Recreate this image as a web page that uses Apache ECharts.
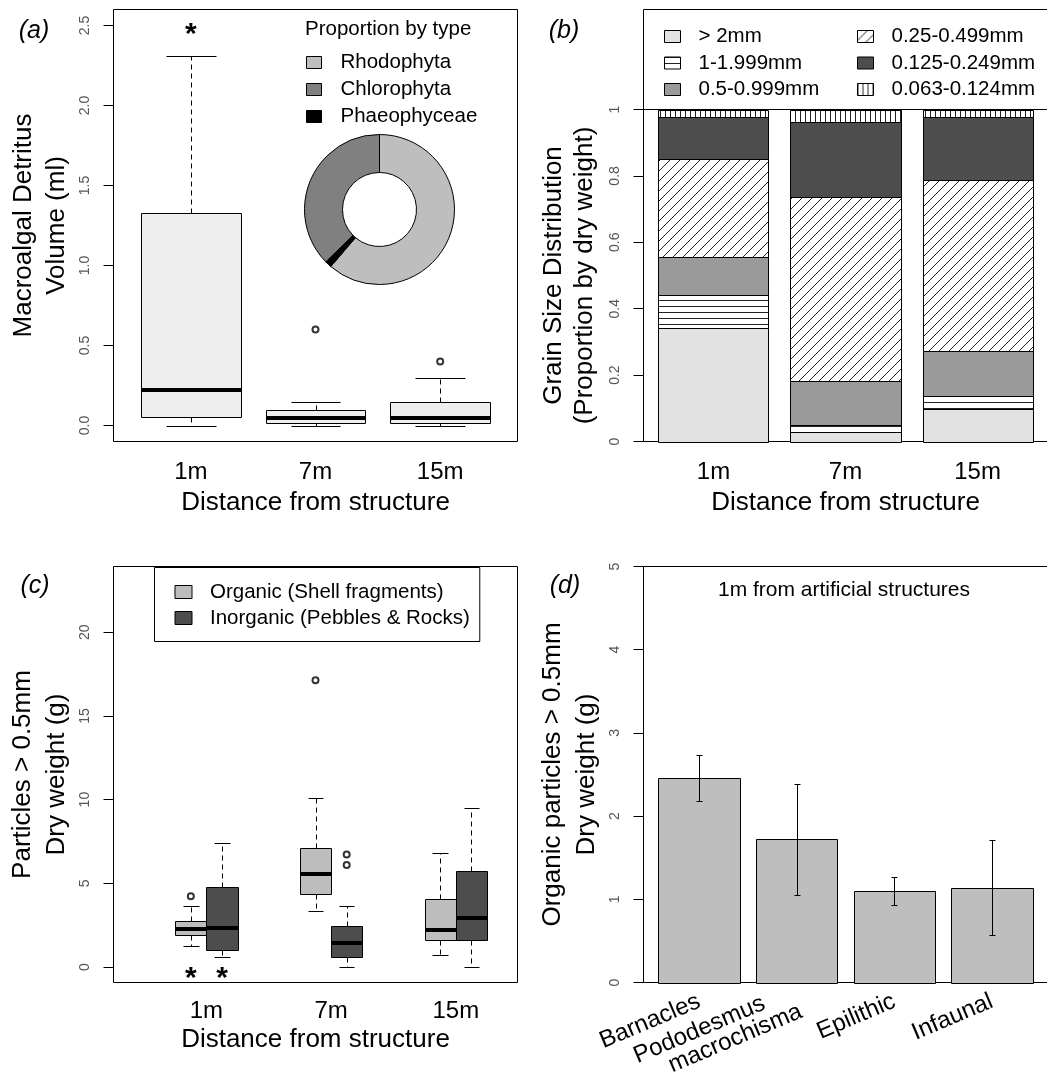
<!DOCTYPE html>
<html>
<head>
<meta charset="utf-8">
<script src="https://cdn.jsdelivr.net/npm/echarts@6/dist/echarts.min.js"></script>
<style>
  html, body { margin: 0; padding: 0; background: #fff; }
  #chart { width: 1047px; height: 1084px; }
</style>
</head>
<body>
<div id="chart"></div>
<script>
// ---------------- data ----------------
const distances = ['1m', '7m', '15m'];

// (a) macroalgal detritus volume (ml) per distance: [min, Q1, median, Q3, max]
const detritusBox = [
  [0.000, 0.054, 0.225, 1.326, 2.310],
  [0.000, 0.017, 0.045, 0.100, 0.150],
  [0.000, 0.017, 0.048, 0.148, 0.300]
];
// outliers: [distance index, value]
const detritusOutliers = [[1, 0.60], [2, 0.40]];
const detritusSignificant = [true, false, false];

// (a) inset: proportion of detritus by algal type
const algaeTypes = ['Rhodophyta', 'Chlorophyta', 'Phaeophyceae'];
const algaeShare = [0.6125, 0.3730, 0.0145];

// (b) grain size distribution (proportion by dry weight)
const grainClasses = ['> 2mm', '1-1.999mm', '0.5-0.999mm', '0.25-0.499mm', '0.125-0.249mm', '0.063-0.124mm'];
const grain1m  = [0.341, 0.100, 0.116, 0.293, 0.128, 0.022];
const grain7m  = [0.028, 0.022, 0.133, 0.552, 0.226, 0.039];
const grain15m = [0.098, 0.040, 0.136, 0.513, 0.191, 0.022];

// (c) particles > 0.5mm dry weight (g): [min, Q1, median, Q3, max]
const particleTypes = ['Organic (Shell fragments)', 'Inorganic (Pebbles & Rocks)'];
const organicBox = [
  [1.26, 1.94, 2.30, 2.73, 3.65],
  [3.33, 4.35, 5.53, 7.09, 10.12],
  [0.74, 1.64, 2.24, 4.05, 6.79]
];
const inorganicBox = [
  [0.60, 1.04, 2.36, 4.79, 7.39],
  [0.00, 0.60, 1.44, 2.46, 3.63],
  [0.00, 1.60, 2.93, 5.73, 9.48]
];
const organicOutliers = [[0, 4.23], [1, 17.13]];
const inorganicOutliers = [[1, 6.73], [1, 6.09]];
const organicSignificant = [true, false, false];
const inorganicSignificant = [true, false, false];

// (d) organic particles > 0.5mm at 1m, by source: mean and error
const shellSources = ['Barnacles', 'Pododesmus\nmacrochisma', 'Epilithic', 'Infaunal'];
const shellMean = [2.46, 1.72, 1.10, 1.14];
const shellErr  = [0.28, 0.67, 0.17, 0.57];

// ---------------- styling helpers ----------------
const FONT = '"Liberation Sans", Arial, Helvetica, sans-serif';
const TITLE_SIZE = 26;

function makePattern(kind) {
  const c = document.createElement('canvas');
  const w = kind === 'h' ? 8 : kind === 'v' ? 5 : 10;
  const h = kind === 'h' ? 6 : kind === 'v' ? 8 : 10;
  c.width = w; c.height = h;
  const g = c.getContext('2d');
  g.fillStyle = '#fff';
  g.fillRect(0, 0, w, h);
  g.strokeStyle = '#222';
  g.lineWidth = 1;
  g.beginPath();
  if (kind === 'h') {
    g.moveTo(0, 0.5); g.lineTo(w, 0.5);
  } else if (kind === 'v') {
    g.moveTo(0.5, 0); g.lineTo(0.5, h);
  } else {
    g.moveTo(0, h); g.lineTo(w, 0);
    g.moveTo(-w / 2, h / 2); g.lineTo(w / 2, -h / 2);
    g.moveTo(w / 2, h * 1.5); g.lineTo(w * 1.5, h / 2);
  }
  g.stroke();
  return { image: c, repeat: 'repeat' };
}

const grainFills = ['#e2e2e2', makePattern('h'), '#9a9a9a', makePattern('d'), '#4d4d4d', makePattern('v')];
const algaeColors = { Rhodophyta: '#bebebe', Chlorophyta: '#808080', Phaeophyceae: '#000000' };

const crisp = v => Math.round(v) + 0.5;

function nearestIndex(list, v) {
  let best = 0;
  list.forEach((p, i) => { if (Math.abs(p - v) < Math.abs(list[best] - v)) best = i; });
  return best;
}

function lineEl(x1, y1, x2, y2, extra) {
  return { type: 'line', shape: { x1, y1, x2, y2 },
           style: Object.assign({ stroke: '#000', lineWidth: 1 }, extra || {}) };
}

// Box-and-whisker glyph for custom series; data item = [x, min, q1, median, q3, max]
function boxRenderer(fill, halfW) {
  return function (params, api) {
    const x = api.value(0);
    const px = u => api.coord([u, 0])[0];
    const py = u => api.coord([x, u])[1];
    const xl = crisp(px(x - halfW)), xr = crisp(px(x + halfW)), xc = crisp(px(x));
    const cl = crisp(px(x - halfW / 2)), cr = crisp(px(x + halfW / 2));
    const yMin = crisp(py(api.value(1))), yQ1 = crisp(py(api.value(2)));
    const yMed = Math.round(py(api.value(3))), yQ3 = crisp(py(api.value(4)));
    const yMax = crisp(py(api.value(5)));
    return {
      type: 'group',
      children: [
        lineEl(xc, yQ3, xc, yMax, { lineDash: [5, 4] }),
        lineEl(xc, yQ1, xc, yMin, { lineDash: [5, 4] }),
        lineEl(cl, yMax, cr, yMax),
        lineEl(cl, yMin, cr, yMin),
        { type: 'rect', shape: { x: xl, y: yQ3, width: xr - xl, height: yQ1 - yQ3 },
          style: { fill: fill, stroke: '#000', lineWidth: 1 } },
        lineEl(xl, yMed, xr, yMed, { lineWidth: 4 })
      ]
    };
  };
}

function starRenderer(params, api) {
  const p = api.coord([api.value(0), api.value(1)]);
  return {
    type: 'text', x: p[0], y: p[1],
    style: { text: '*', font: 'bold 30px ' + FONT, fill: '#000',
             textAlign: 'center', textVerticalAlign: 'middle',
             align: 'center', verticalAlign: 'middle' }
  };
}

function catAxis(gridIndex, min, max, positions, labels, extra) {
  const ax = {
    gridIndex, type: 'value', min, max,
    axisLine: { show: false }, axisTick: { show: false }, splitLine: { show: false },
    axisLabel: {
      customValues: positions,
      formatter: v => labels[nearestIndex(positions, v)],
      fontSize: 24, color: '#000', margin: 19
    }
  };
  if (extra) {
    Object.keys(extra).forEach(k => {
      if (k === 'axisLabel') Object.assign(ax.axisLabel, extra.axisLabel);
      else ax[k] = extra[k];
    });
  }
  return ax;
}

function valAxis(gridIndex, min, max, ticks, fmt, name, nameGap, lineHeight) {
  return {
    gridIndex, type: 'value', min, max,
    axisLine: { show: false }, splitLine: { show: false },
    axisTick: { show: true, customValues: ticks, length: 10, lineStyle: { color: '#000', width: 1 } },
    axisLabel: { customValues: ticks, rotate: 90, formatter: fmt, fontSize: 14, color: '#555', margin: 21 },
    name, nameLocation: 'middle', nameGap,
    nameTextStyle: { fontSize: TITLE_SIZE, lineHeight, color: '#000' }
  };
}

const xTitle = (gap) => ({
  name: 'Distance from structure', nameLocation: 'middle', nameGap: gap,
  nameTextStyle: { fontSize: TITLE_SIZE, color: '#000' }
});

// ---------------- derived series data ----------------
const barPos = i => 0.7 + 1.2 * i;   // bar centres (width 1, space 0.2)
const grainByDistance = [grain1m, grain7m, grain15m];
const grainCum = grainByDistance.map(arr => {
  const out = [0];
  arr.forEach(v => out.push(out[out.length - 1] + v));
  return out;
});
const grainSeries = grainClasses.map((name, k) => ({
  type: 'custom', name, xAxisIndex: 1, yAxisIndex: 1,
  itemStyle: { color: grainFills[k] },
  encode: { x: 0, y: [1, 2] },
  data: grainByDistance.map((arr, i) => [barPos(i), grainCum[i][k], grainCum[i][k + 1]]),
  renderItem: (params, api) => {
    const x = api.value(0);
    const tl = api.coord([x - 0.5, api.value(2)]);
    const br = api.coord([x + 0.5, api.value(1)]);
    const x0 = crisp(tl[0]), x1 = crisp(br[0]), y0 = crisp(tl[1]), y1 = crisp(br[1]);
    return { type: 'rect', shape: { x: x0, y: y0, width: x1 - x0, height: y1 - y0 },
             style: { fill: grainFills[k], stroke: '#000', lineWidth: 1 } };
  }
}));

const pieOrder = [0, 2, 1]; // clockwise from 12 o'clock
const pieData = pieOrder.map(i => ({
  name: algaeTypes[i], value: algaeShare[i], itemStyle: { color: algaeColors[algaeTypes[i]] }
}));

const starY_a = 2.44, starY_c = -0.72;

// ---------------- chart ----------------
const chart = echarts.init(document.getElementById('chart'), null, { renderer: 'canvas' });

const gridBase = { show: true, borderColor: '#000', borderWidth: 1, backgroundColor: 'transparent',
                   containLabel: false, outerBoundsMode: 'none' };

const option = {
  animation: false,
  backgroundColor: '#ffffff',
  textStyle: { fontFamily: FONT },
  grid: [
    Object.assign({ left: 113.5, top: 9.5, width: 404, height: 432 }, gridBase),
    Object.assign({ left: 643.5, top: 109.5, width: 404, height: 332 }, gridBase),
    Object.assign({ left: 113.5, top: 566.5, width: 404, height: 416 }, gridBase),
    Object.assign({ left: 643.5, top: 566.5, width: 404, height: 416 }, gridBase)
  ],
  xAxis: [
    catAxis(0, 0.38, 3.62, [1, 2, 3], distances, xTitle(48)),
    catAxis(1, 0.064, 3.736, [barPos(0), barPos(1), barPos(2)], distances, xTitle(48)),
    catAxis(2, 0.38, 3.62, [1.125, 2.125, 3.125], distances, Object.assign(xTitle(44), { axisLabel: { margin: 17 } })),
    catAxis(3, 0.016, 4.984, shellSources.map((s, i) => barPos(i)),
      shellSources.map(s => {
        const parts = s.split('\n');
        return parts.length === 2 ? '{p|' + parts[0] + '}\n{q|' + parts[1] + '}' : s;
      }),
      { axisLabel: { rotate: 23, margin: 18, lineHeight: 22,
                     rich: { p: { fontSize: 24, lineHeight: 22, padding: [0, 31, 0, 0] },
                             q: { fontSize: 24, lineHeight: 22 } } } })
  ],
  yAxis: [
    valAxis(0, -0.1, 2.6, [0, 0.5, 1, 1.5, 2, 2.5], v => v.toFixed(1),
      'Macroalgal Detritus\nVolume (ml)', 40, 33),
    valAxis(1, 0, 1, [0, 0.2, 0.4, 0.6, 0.8, 1], v => String(+v.toFixed(1)),
      'Grain Size Distribution\n(Proportion by dry weight)', 43, 31),
    valAxis(2, -0.92, 23.92, [0, 5, 10, 15, 20], v => String(v),
      'Particles > 0.5mm\nDry weight (g)', 40, 34),
    valAxis(3, 0, 5, [0, 1, 2, 3, 4, 5], v => String(v),
      'Organic particles > 0.5mm\nDry weight (g)', 40, 34)
  ],
  legend: [
    { data: algaeTypes, left: 306, top: 52, orient: 'vertical', icon: 'rect',
      itemWidth: 15, itemHeight: 12, itemGap: 6, padding: 0, selectedMode: false,
      itemStyle: { borderColor: '#000', borderWidth: 1 },
      textStyle: { fontSize: 20.5, color: '#000', padding: [0, 0, 0, 14] } },
    { data: grainClasses.slice(0, 3), left: 664, top: 26, orient: 'vertical', icon: 'rect',
      itemWidth: 16, itemHeight: 12, itemGap: 5.5, padding: 0, selectedMode: false,
      itemStyle: { borderColor: '#000', borderWidth: 1 },
      textStyle: { fontSize: 20.5, color: '#000', padding: [0, 0, 0, 13] } },
    { data: grainClasses.slice(3), left: 857, top: 26, orient: 'vertical', icon: 'rect',
      itemWidth: 16, itemHeight: 12, itemGap: 5.5, padding: 0, selectedMode: false,
      itemStyle: { borderColor: '#000', borderWidth: 1 },
      textStyle: { fontSize: 20.5, color: '#000', padding: [0, 0, 0, 13] } },
    { data: particleTypes, left: 154.5, top: 567.5, orient: 'vertical', icon: 'rect',
      itemWidth: 17, itemHeight: 13, itemGap: 5, padding: [14, 10, 13, 20], selectedMode: false,
      borderColor: '#000', borderWidth: 1,
      itemStyle: { borderColor: '#000', borderWidth: 1 },
      textStyle: { fontSize: 20.5, color: '#000', padding: [0, 0, 0, 13] } }
  ],
  graphic: [
    { type: 'rect', shape: { x: 643.5, y: 9.5, width: 404, height: 100 },
      style: { fill: 'none', stroke: '#000', lineWidth: 1 }, silent: true },
    { type: 'text', x: 305, y: 29,
      style: { text: 'Proportion by type', font: '20.5px ' + FONT, fill: '#000',
               textAlign: 'left', textVerticalAlign: 'middle', align: 'left', verticalAlign: 'middle' } },
    { type: 'text', x: 844, y: 590,
      style: { text: '1m from artificial structures', font: '21px ' + FONT, fill: '#000',
               textAlign: 'center', textVerticalAlign: 'middle', align: 'center', verticalAlign: 'middle' } },
    ...[['(a)', 34, 31], ['(b)', 564, 31], ['(c)', 35, 586], ['(d)', 565, 586]].map(t => ({
      type: 'text', x: t[1], y: t[2],
      style: { text: t[0], font: 'italic 25px ' + FONT, fill: '#000',
               textAlign: 'center', textVerticalAlign: 'middle', align: 'center', verticalAlign: 'middle' }
    }))
  ],
  series: [
    // (a) detritus boxplots
    { type: 'custom', name: 'Detritus volume', xAxisIndex: 0, yAxisIndex: 0,
      encode: { x: 0, y: [1, 2, 3, 4, 5] },
      data: detritusBox.map((b, i) => [i + 1].concat(b)),
      renderItem: boxRenderer('#eeeeee', 0.4) },
    { type: 'scatter', xAxisIndex: 0, yAxisIndex: 0, symbol: 'emptyCircle', symbolSize: 6,
      itemStyle: { color: '#000', borderWidth: 1 }, silent: true,
      data: detritusOutliers.map(o => [o[0] + 1, o[1]]) },
    { type: 'custom', xAxisIndex: 0, yAxisIndex: 0, silent: true,
      data: detritusSignificant.map((s, i) => s ? [i + 1, starY_a] : null).filter(Boolean),
      renderItem: starRenderer },
    // (a) inset donut
    { type: 'pie', center: [379.5, 209.5], radius: [37, 75], startAngle: 90, clockwise: true,
      silent: true, label: { show: false }, labelLine: { show: false },
      itemStyle: { borderColor: '#000', borderWidth: 1 },
      emphasis: { disabled: true }, data: pieData },
    // (b) stacked grain-size bars
    ...grainSeries,
    // (c) organic / inorganic boxplots
    { type: 'custom', name: particleTypes[0], xAxisIndex: 2, yAxisIndex: 2,
      itemStyle: { color: '#bdbdbd' }, encode: { x: 0, y: [1, 2, 3, 4, 5] },
      data: organicBox.map((b, i) => [i + 1].concat(b)),
      renderItem: boxRenderer('#bdbdbd', 0.125) },
    { type: 'custom', name: particleTypes[1], xAxisIndex: 2, yAxisIndex: 2,
      itemStyle: { color: '#4d4d4d' }, encode: { x: 0, y: [1, 2, 3, 4, 5] },
      data: inorganicBox.map((b, i) => [i + 1.25].concat(b)),
      renderItem: boxRenderer('#4d4d4d', 0.125) },
    { type: 'scatter', xAxisIndex: 2, yAxisIndex: 2, symbol: 'emptyCircle', symbolSize: 6,
      itemStyle: { color: '#000', borderWidth: 1 }, silent: true,
      data: organicOutliers.map(o => [o[0] + 1, o[1]]).concat(inorganicOutliers.map(o => [o[0] + 1.25, o[1]])) },
    { type: 'custom', xAxisIndex: 2, yAxisIndex: 2, silent: true,
      data: organicSignificant.map((s, i) => s ? [i + 1, starY_c] : null)
        .concat(inorganicSignificant.map((s, i) => s ? [i + 1.25, starY_c] : null)).filter(Boolean),
      renderItem: starRenderer },
    // (d) mean bars with error bars
    { type: 'custom', name: 'Organic particles', xAxisIndex: 3, yAxisIndex: 3,
      encode: { x: 0, y: 1 },
      data: shellMean.map((m, i) => [barPos(i), m, shellErr[i]]),
      renderItem: (params, api) => {
        const x = api.value(0), m = api.value(1), e = api.value(2);
        const tl = api.coord([x - 0.5, m]), br = api.coord([x + 0.5, 0]);
        const xc = crisp(api.coord([x, 0])[0]);
        const yt = crisp(api.coord([x, m + e])[1]), yb = crisp(api.coord([x, m - e])[1]);
        const x0 = crisp(tl[0]), x1 = crisp(br[0]), y0 = crisp(tl[1]), y1 = crisp(br[1]);
        return { type: 'group', children: [
          { type: 'rect', shape: { x: x0, y: y0, width: x1 - x0, height: y1 - y0 },
            style: { fill: '#bebebe', stroke: '#000', lineWidth: 1 } },
          lineEl(xc, yt, xc, yb),
          lineEl(xc - 3, yt, xc + 3, yt),
          lineEl(xc - 3, yb, xc + 3, yb)
        ] };
      } }
  ]
};

chart.setOption(option);
</script>
</body>
</html>
